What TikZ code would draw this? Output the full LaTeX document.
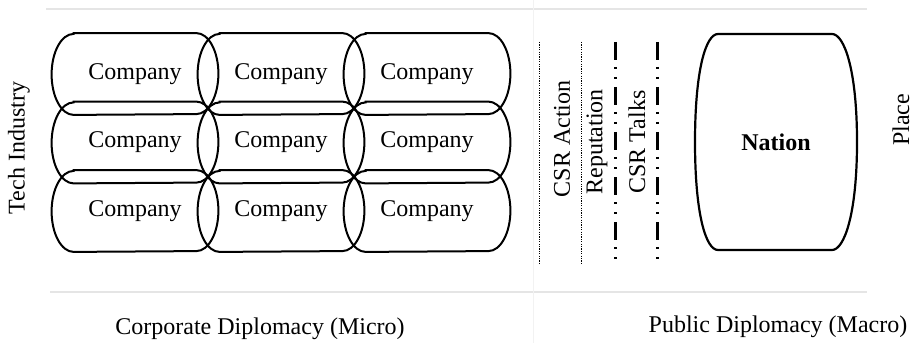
\documentclass[tikz,border=0pt]{standalone}
\usepackage{fontspec}
\setmainfont{Liberation Serif}
\usepackage{tikz}
\usetikzlibrary{matrix,positioning,calc}

\begin{document}
\begin{tikzpicture}[x=1pt,y=1pt,font=\fontsize{12}{14}\selectfont,
		company/.style={rectangle,inner sep=0pt,minimum width=83pt,minimum height=40.5pt},
		outline/.style={line width=1pt},
		fine/.style={line width=0.5pt,dash pattern=on 0.6pt off 0.6pt},
		talk/.style={line width=1.5pt,dash pattern=on 9pt off 3.5pt on 1pt off 4pt on 1pt off 4pt},
		rule/.style={line width=0.8pt,black!10},
	]
		\useasboundingbox (0,0) rectangle (457,171.5);

		% faint table rules
		\draw[rule] (23,167) -- (433.5,167);
		\draw[rule] (25,25.5) -- (433.5,25.5);
		\draw[line width=0.5pt,black!5] (266.5,171.5) -- (266.5,0);

		% the companies
		\matrix (m) [
			matrix of nodes,
			nodes=company,
			row sep=-6.25pt,
			column sep=-10pt,
		] at (140.5,100.25)
		{
			Company & Company & Company \\
			Company & Company & Company \\
			Company & Company & Company \\
		};
		\foreach \r in {1,2,3}
			\foreach \c in {1,2,3}
				\draw[outline] ([xshift=11pt]m-\r-\c.north west) -- ([xshift=-11pt]m-\r-\c.north east)
					arc[start angle=90,end angle=-90,x radius=11pt,y radius=20.25pt]
					-- ([xshift=11pt]m-\r-\c.south west)
					arc[start angle=270,end angle=90,x radius=11pt,y radius=20.25pt] -- cycle;

		\node[rotate=90] (tech) at (9.5,97.5) {Tech Industry};

		% separators
		\draw[fine] (269.5,150.5) -- (269.5,39);
		\draw[fine] (290.5,150.5) -- (290.5,39);
		\draw[talk] (307.75,150.5) -- (307.75,39);
		\draw[talk] (328.5,150.5) -- (328.5,39);
		\node[rotate=90] (action) at (281,102) {CSR Action};
		\node[rotate=90] (rep) at (298.5,100.5) {Reputation};
		\node[rotate=90] (talks) at (318.5,100.5) {CSR Talks};

		% the nation
		\node[font=\fontsize{12}{14}\selectfont\bfseries] (nation) at (388,100.5) {Nation};
		\draw[outline,line width=1.1pt] (359,154.5) -- (416,154.5)
			.. controls (422,154.5) and (428.5,137) .. (428.5,100.5)
			.. controls (428.5,64) and (422,46.5) .. (416,46.5)
			-- (359,46.5)
			.. controls (353,46.5) and (347.5,64) .. (347.5,100.5)
			.. controls (347.5,137) and (353,154.5) .. cycle;
		\node[rotate=90] (place) at (450.5,111.5) {Place};

		\node (micro) at (130,7) {Corporate Diplomacy (Micro)};
		\node (macro) at (389,8) {Public Diplomacy (Macro)};
	\end{tikzpicture}
\end{document}
